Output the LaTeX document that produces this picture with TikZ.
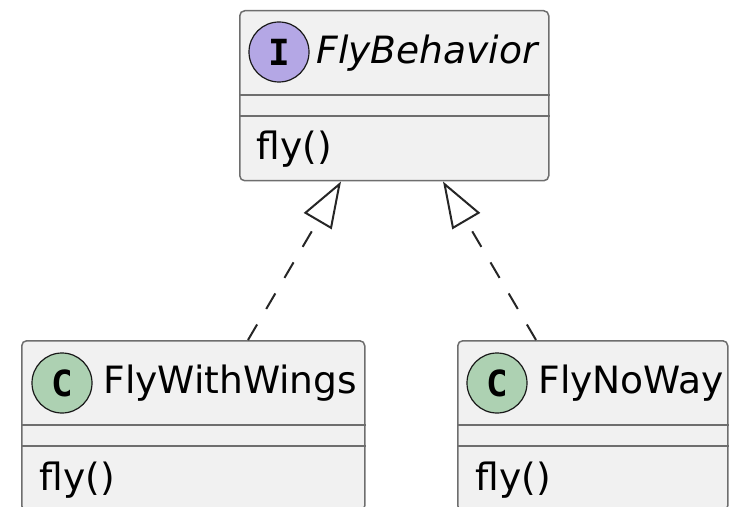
\documentclass[tikz,border=0pt]{standalone}
\usepackage{fontspec}
\setmainfont{DejaVu Sans}
\newfontfamily\spotfont{DejaVu Sans Mono}
\usetikzlibrary{arrows.meta}
\usetikzlibrary{calc}
\definecolor{boxfill}{HTML}{F1F1F1}
\definecolor{boxline}{HTML}{6E6E6E}
\definecolor{ifill}{HTML}{B4A7E5}
\definecolor{cfill}{HTML}{ADD1B2}

\begin{document}
\begin{tikzpicture}[x=0.5pt,y=-0.5pt,
            font=\fontsize{18.8}{22}\selectfont,
            classbox/.style = {draw=boxline,line width=0.75pt,fill=boxfill,
                rounded corners=2.5pt,anchor=north west,inner sep=0pt,minimum height=85pt},
            spot/.style = {circle,draw=black!90,line width=0.6pt,minimum size=30pt,inner sep=0pt,
                font=\spotfont\bfseries\fontsize{18}{18}\selectfont},
            title/.style = {anchor=base west,inner sep=0pt},
            sep/.style = {draw=boxline,line width=0.75pt},
            realize/.style = {draw=black!85,line width=1pt,dash pattern=on 9pt off 9pt,
                -{Triangle[open,length=23pt,width=16pt]}}]
            \clip (0,0) rectangle (732,507);
            \node[classbox,minimum width=154.5pt] (behavior) at (239,10) {};
            \node[classbox,minimum width=171.5pt] (wings) at (21,340) {};
            \node[classbox,minimum width=135pt] (noway) at (457,340) {};
            \foreach \b in {behavior,wings,noway} {
                \draw[sep] ([yshift=-42.5pt]\b.north west) -- ([yshift=-42.5pt]\b.north east);
                \draw[sep] ([yshift=-53pt]\b.north west) -- ([yshift=-53pt]\b.north east);
            }
            \node[spot,fill=ifill] (ispot) at (279,52) {I};
            \node[spot,fill=cfill] (cspot1) at (62,383) {C};
            \node[spot,fill=cfill] (cspot2) at (497,383) {C};
            \node[title] (tbehavior) at (316,64) {\itshape FlyBehavior};
            \node[title] (twings) at (103,393) {FlyWithWings};
            \node[title] (tnoway) at (538,393) {FlyNoWay};
            \node[title] (mbehavior) at (256,160) {fly()};
            \node[title] (mwings) at (39,490) {fly()};
            \node[title] (mnoway) at (475,490) {fly()};
            \draw[realize] ($(wings.north west)+(227,0)$) -- ($(behavior.south west)+(102,0)$);
            \draw[realize] ($(noway.north west)+(79,0)$) -- ($(behavior.south west)+(204,0)$);
        \end{tikzpicture}
\end{document}
